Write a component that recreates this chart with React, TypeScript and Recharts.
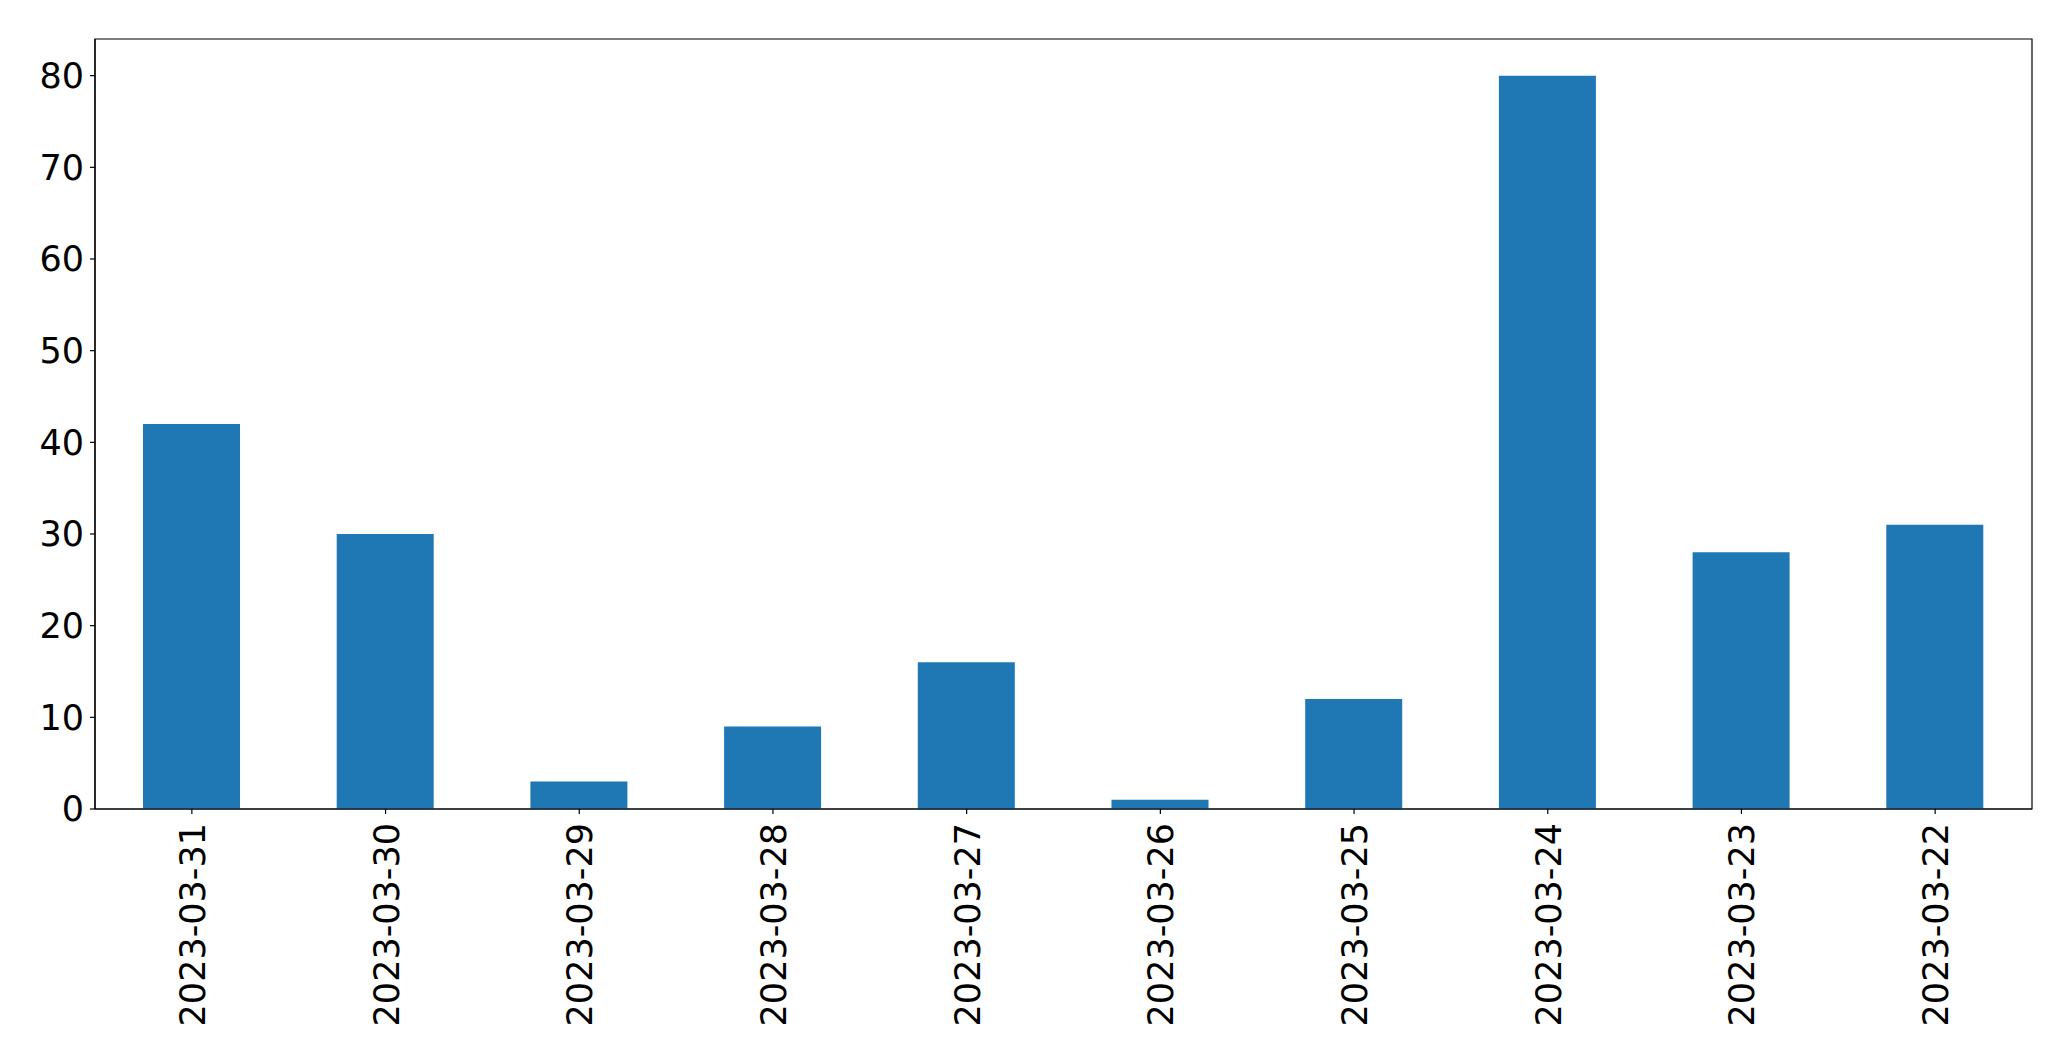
import React from 'react';
import { BarChart, Bar, XAxis, YAxis, ReferenceArea } from 'recharts';

const dates = ['2023-03-31', '2023-03-30', '2023-03-29', '2023-03-28', '2023-03-27', '2023-03-26', '2023-03-25', '2023-03-24', '2023-03-23', '2023-03-22'];
const counts = [42, 30, 3, 9, 16, 1, 12, 80, 28, 31];
const yTicks = [0, 10, 20, 30, 40, 50, 60, 70, 80];

const data = dates.map((d, i) => ({ date: d, count: counts[i] }));

const FONT = '"DejaVu Sans", sans-serif';

const XTick = (props: any) => {
  const { x, y, payload } = props;
  return (
    <g transform={`translate(${x},${y})`}>
      <text x={-9} y={13} transform="rotate(-90)" textAnchor="end" fill="#000" fontSize={35} fontFamily={FONT}>
        {payload.value}
      </text>
    </g>
  );
};

export default function App() {
  return (
    <div style={{ position: 'absolute', left: 0, top: 0, width: 2071, height: 1061, background: '#fff' }}>
      <BarChart width={2071} height={1061} data={data} margin={{ top: 39, right: 39, left: 0, bottom: 0 }}>
        <XAxis
          dataKey="date"
          height={252}
          tick={<XTick />}
          tickSize={5}
          tickMargin={0}
          interval={0}
          axisLine={{ stroke: '#000', strokeWidth: 1.2 }}
          tickLine={{ stroke: '#000', strokeWidth: 1.2 }}
        />
        <YAxis
          width={95}
          domain={[0, 84]}
          ticks={yTicks}
          tickSize={5}
          tickMargin={6}
          interval={0}
          allowDataOverflow
          axisLine={{ stroke: '#000', strokeWidth: 1.2 }}
          tickLine={{ stroke: '#000', strokeWidth: 1.2 }}
          tick={{ fill: '#000', fontSize: 35, fontFamily: FONT }}
        />
        <Bar dataKey="count" fill="#1f77b4" barSize={97} isAnimationActive={false} />
        <ReferenceArea y1={0} y2={84} fill="none" fillOpacity={0} stroke="#000" strokeWidth={1.2} strokeOpacity={1} ifOverflow="visible" />
      </BarChart>
    </div>
  );
}
